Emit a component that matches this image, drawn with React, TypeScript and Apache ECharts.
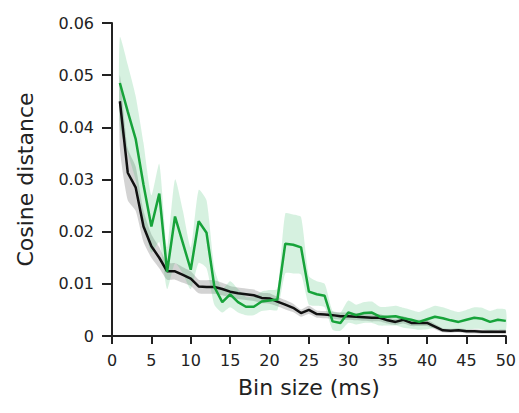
import React, { useEffect, useRef } from "react";
import * as echarts from "echarts";

const binSizes = Array.from({ length: 50 }, (_, i) => i + 1);

const greenMean = [
  0.0485, 0.0430, 0.0378, 0.0290, 0.0210, 0.0273, 0.0123, 0.0229, 0.0178, 0.0127,
  0.0220, 0.0198, 0.0094, 0.0065, 0.0080, 0.0065, 0.0056, 0.0056, 0.0066, 0.0068,
  0.0070, 0.0177, 0.0175, 0.0170, 0.0085, 0.0080, 0.0077, 0.0028, 0.0025, 0.0045,
  0.0040, 0.0044, 0.0045, 0.0037, 0.0037, 0.0038, 0.0034, 0.0031, 0.0027, 0.0032,
  0.0037, 0.0034, 0.0030, 0.0027, 0.0031, 0.0035, 0.0033, 0.0027, 0.0031, 0.0029,
];

const greenLower = [
  0.0400, 0.0350, 0.0300, 0.0220, 0.0160, 0.0180, 0.0090, 0.0140, 0.0120, 0.0090,
  0.0140, 0.0130, 0.0060, 0.0045, 0.0055, 0.0045, 0.0040, 0.0040, 0.0048, 0.0050,
  0.0050, 0.0120, 0.0120, 0.0118, 0.0060, 0.0058, 0.0055, 0.0012, 0.0010, 0.0025,
  0.0022, 0.0025, 0.0025, 0.0020, 0.0020, 0.0020, 0.0016, 0.0014, 0.0012, 0.0013,
  0.0016, 0.0014, 0.0012, 0.0010, 0.0012, 0.0014, 0.0013, 0.0010, 0.0012, 0.0011,
];

const greenUpper = [
  0.0573, 0.0520, 0.0460, 0.0370, 0.0270, 0.0330, 0.0170, 0.0300, 0.0240, 0.0170,
  0.0280, 0.0260, 0.0130, 0.0090, 0.0105, 0.0090, 0.0075, 0.0075, 0.0085, 0.0088,
  0.0090, 0.0235, 0.0233, 0.0228, 0.0115, 0.0105, 0.0100, 0.0048, 0.0045, 0.0068,
  0.0060, 0.0065, 0.0066, 0.0056, 0.0056, 0.0058, 0.0054, 0.0050, 0.0046, 0.0052,
  0.0058, 0.0055, 0.0050, 0.0046, 0.0050, 0.0055, 0.0054, 0.0048, 0.0052, 0.0050,
];

const blackMean = [
  0.0450, 0.0313, 0.0285, 0.0210, 0.0172, 0.0150, 0.0124, 0.0124, 0.0117, 0.0110,
  0.0095, 0.0094, 0.0094, 0.0090, 0.0085, 0.0082, 0.0080, 0.0078, 0.0073, 0.0072,
  0.0066, 0.0060, 0.0054, 0.0044, 0.0050, 0.0042, 0.0041, 0.0040, 0.0038, 0.0038,
  0.0037, 0.0036, 0.0035, 0.0035, 0.0030, 0.0027, 0.0031, 0.0025, 0.0025, 0.0025,
  0.0018, 0.0011, 0.0010, 0.0011, 0.0009, 0.0009, 0.0008, 0.0008, 0.0008, 0.0008,
];

const blackLower = [
  0.0360, 0.0260, 0.0240, 0.0180, 0.0150, 0.0130, 0.0108, 0.0108, 0.0102, 0.0096,
  0.0082, 0.0081, 0.0081, 0.0078, 0.0074, 0.0071, 0.0069, 0.0067, 0.0063, 0.0062,
  0.0057, 0.0051, 0.0046, 0.0037, 0.0042, 0.0035, 0.0034, 0.0033, 0.0031, 0.0031,
  0.0030, 0.0029, 0.0028, 0.0028, 0.0024, 0.0021, 0.0024, 0.0019, 0.0019, 0.0019,
  0.0013, 0.0007, 0.0006, 0.0007, 0.0005, 0.0005, 0.0004, 0.0004, 0.0004, 0.0004,
];

const blackUpper = [
  0.0500, 0.0360, 0.0325, 0.0240, 0.0195, 0.0170, 0.0140, 0.0140, 0.0132, 0.0124,
  0.0108, 0.0107, 0.0107, 0.0102, 0.0096, 0.0093, 0.0091, 0.0089, 0.0083, 0.0082,
  0.0075, 0.0069, 0.0062, 0.0051, 0.0058, 0.0049, 0.0048, 0.0047, 0.0045, 0.0045,
  0.0044, 0.0043, 0.0042, 0.0042, 0.0036, 0.0033, 0.0038, 0.0031, 0.0031, 0.0031,
  0.0023, 0.0015, 0.0014, 0.0015, 0.0013, 0.0013, 0.0012, 0.0012, 0.0012, 0.0012,
];

const xTicks = [0, 5, 10, 15, 20, 25, 30, 35, 40, 45, 50];
const yTicks = [0, 0.01, 0.02, 0.03, 0.04, 0.05, 0.06];

const FONT = "DejaVu Sans, Liberation Sans, Arial, sans-serif";
const AXIS_COLOR = "#222222";

function bandSeries(name: string, lower: number[], upper: number[], color: string, z: number) {
  return {
    name,
    type: "custom",
    silent: true,
    z,
    data: binSizes.map((x, i) => [x, lower[i], upper[i]]),
    encode: { x: 0, y: [1, 2] },
    renderItem: (params: any, api: any) => {
      if (params.dataIndex !== 0) return null;
      const pts: number[][] = [];
      for (let i = 0; i < binSizes.length; i++) pts.push(api.coord([binSizes[i], upper[i]]));
      for (let i = binSizes.length - 1; i >= 0; i--) pts.push(api.coord([binSizes[i], lower[i]]));
      return {
        type: "polygon",
        shape: { points: pts, smooth: 0.2 },
        style: { fill: color, stroke: "none" },
      };
    },
  };
}

export default function App() {
  const ref = useRef<HTMLDivElement>(null);

  useEffect(() => {
    if (!ref.current) return;
    const chart = echarts.init(ref.current, null, { renderer: "svg" });
    const pairs = (arr: number[]) => binSizes.map((x, i) => [x, arr[i]]);

    chart.setOption({
      animation: false,
      backgroundColor: "#ffffff",
      grid: { left: 112, right: 12, top: 23, bottom: 77, containLabel: false },
      xAxis: {
        type: "value",
        min: 0,
        max: 50,
        interval: 5,
        name: "Bin size (ms)",
        nameLocation: "middle",
        nameGap: 40,
        nameTextStyle: { fontFamily: FONT, fontSize: 22, color: AXIS_COLOR },
        axisLine: { show: true, lineStyle: { color: AXIS_COLOR, width: 2 } },
        axisTick: { show: true, length: 8, lineStyle: { color: AXIS_COLOR, width: 2 } },
        axisLabel: {
          fontFamily: FONT,
          fontSize: 16,
          color: AXIS_COLOR,
          margin: 16,
          formatter: (v: number) => (xTicks.includes(v) ? String(v) : ""),
        },
        splitLine: { show: false },
      },
      yAxis: {
        type: "value",
        min: 0,
        max: 0.06,
        interval: 0.01,
        name: "Cosine distance",
        nameLocation: "middle",
        nameGap: 76,
        nameRotate: 90,
        nameTextStyle: { fontFamily: FONT, fontSize: 22, color: AXIS_COLOR },
        axisLine: { show: true, lineStyle: { color: AXIS_COLOR, width: 2 } },
        axisTick: { show: true, length: 10, lineStyle: { color: AXIS_COLOR, width: 2 } },
        axisLabel: {
          fontFamily: FONT,
          fontSize: 16,
          color: AXIS_COLOR,
          margin: 18,
          formatter: (v: number) => {
            const t = yTicks.find((y) => Math.abs(y - v) < 1e-9);
            if (t === undefined) return "";
            return t === 0 ? "0" : t.toFixed(2);
          },
        },
        splitLine: { show: false },
      },
      series: [
        bandSeries("grayBand", blackLower, blackUpper, "rgba(110,110,110,0.3)", 1),
        bandSeries("greenBand", greenLower, greenUpper, "rgba(70,190,115,0.22)", 2),
        {
          name: "black",
          type: "line",
          data: pairs(blackMean),
          symbol: "none",
          lineStyle: { color: "#111111", width: 2.5 },
          z: 3,
        },
        {
          name: "green",
          type: "line",
          data: pairs(greenMean),
          symbol: "none",
          lineStyle: { color: "#17a33a", width: 2.5 },
          z: 4,
        },
      ],
    });

    return () => chart.dispose();
  }, []);

  return <div ref={ref} style={{ width: 519, height: 413, position: "absolute", left: 0, top: 0 }} />;
}
